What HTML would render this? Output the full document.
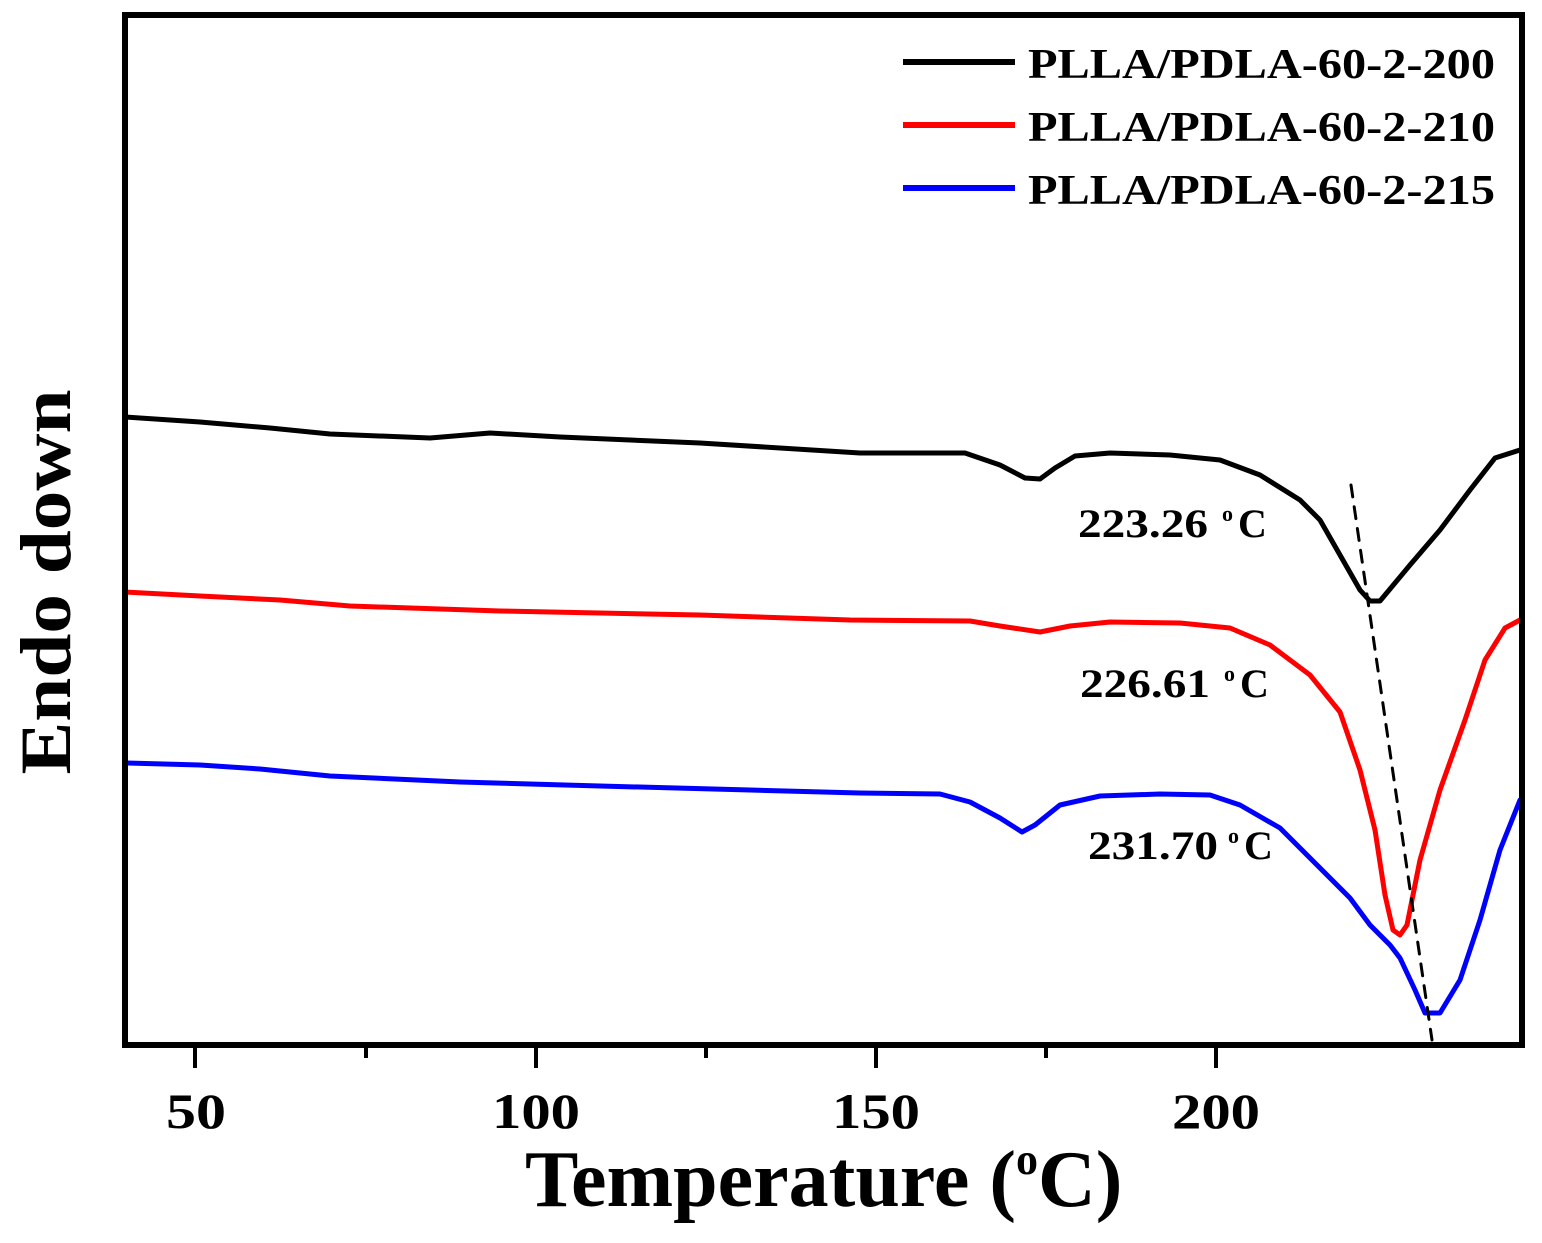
<!DOCTYPE html>
<html><head><meta charset="utf-8"><style>html,body{margin:0;padding:0;background:#fff}</style></head>
<body>
<svg width="1542" height="1238" xmlns="http://www.w3.org/2000/svg" font-family="'Liberation Serif', serif" font-weight="bold">
<rect width="1542" height="1238" fill="#fff"/>
<g fill="none" stroke-linejoin="round" stroke-linecap="round" stroke-width="5">
<polyline stroke="#000" points="125,417 200,422 270,428 330,434 430,438 490,433 560,437 700,443 860,453 965,453 1000,465 1025,478 1040,479 1055,468 1075,456 1110,453 1170,455 1220,460 1260,475 1300,500 1320,520 1340,555 1360,590 1370,601 1380,601 1395,583 1410,565 1440,530 1470,490 1495,458 1520,450"/>
<polyline stroke="#f00" points="125,592 200,596 280,600 350,606 500,611 700,615 850,620 970,621 1000,626 1040,632 1070,626 1110,622 1180,623 1230,628 1270,645 1310,675 1340,712 1360,770 1375,830 1385,895 1393,930 1400,935 1407,925 1420,860 1440,790 1465,720 1485,660 1505,628 1520,620"/>
<polyline stroke="#00f" points="125,763 200,765 260,769 330,776 460,782 600,786 750,790 860,793 940,794 970,802 1000,818 1022,832 1035,825 1060,805 1100,796 1160,794 1210,795 1240,805 1280,828 1320,868 1350,898 1370,925 1390,945 1400,958 1415,990 1425,1013 1440,1013 1460,980 1480,920 1500,850 1520,800"/>
<line stroke="#000" stroke-width="3" stroke-dasharray="12,10" x1="1351" y1="485" x2="1432" y2="1040"/>
</g>
<rect x="125" y="15" width="1397" height="1030" fill="none" stroke="#000" stroke-width="6"/>
<g stroke="#000" stroke-width="4">
<line x1="195" y1="1045" x2="195" y2="1068"/><line x1="536" y1="1045" x2="536" y2="1068"/><line x1="876" y1="1045" x2="876" y2="1068"/><line x1="1216" y1="1045" x2="1216" y2="1068"/>
<line x1="366" y1="1045" x2="366" y2="1058"/><line x1="706" y1="1045" x2="706" y2="1058"/><line x1="1046" y1="1045" x2="1046" y2="1058"/>
</g>
<g font-size="50">
<text x="166" y="1128" textLength="60" lengthAdjust="spacingAndGlyphs">50</text>
<text x="492" y="1128" textLength="88" lengthAdjust="spacingAndGlyphs">100</text>
<text x="832" y="1128" textLength="88" lengthAdjust="spacingAndGlyphs">150</text>
<text x="1172" y="1128" textLength="88" lengthAdjust="spacingAndGlyphs">200</text>
</g>
<text x="525" y="1206" font-size="80">Temperature (<tspan font-size="44" dy="-32">o</tspan><tspan dy="32">C)</tspan></text>
<text transform="translate(70,582) rotate(-90)" font-size="72" text-anchor="middle" textLength="385" lengthAdjust="spacingAndGlyphs">Endo down</text>
<g stroke-width="6">
<line x1="903" y1="62" x2="1015" y2="62" stroke="#000"/>
<line x1="903" y1="125" x2="1015" y2="125" stroke="#f00"/>
<line x1="903" y1="188" x2="1015" y2="188" stroke="#00f"/>
</g>
<g font-size="42">
<text x="1028" y="78" textLength="467" lengthAdjust="spacingAndGlyphs">PLLA/PDLA-60-2-200</text>
<text x="1028" y="141" textLength="467" lengthAdjust="spacingAndGlyphs">PLLA/PDLA-60-2-210</text>
<text x="1028" y="204" textLength="467" lengthAdjust="spacingAndGlyphs">PLLA/PDLA-60-2-215</text>
</g>
<g font-size="40">
<text x="1078" y="537" textLength="130" lengthAdjust="spacingAndGlyphs">223.26</text><text x="1222" y="521" font-size="22">o</text><text x="1238" y="537">C</text>
<text x="1080" y="697" textLength="130" lengthAdjust="spacingAndGlyphs">226.61</text><text x="1224" y="681" font-size="22">o</text><text x="1240" y="697">C</text>
<text x="1088" y="859" textLength="130" lengthAdjust="spacingAndGlyphs">231.70</text><text x="1228" y="843" font-size="22">o</text><text x="1244" y="859">C</text>
</g>
</svg>
</body></html>
